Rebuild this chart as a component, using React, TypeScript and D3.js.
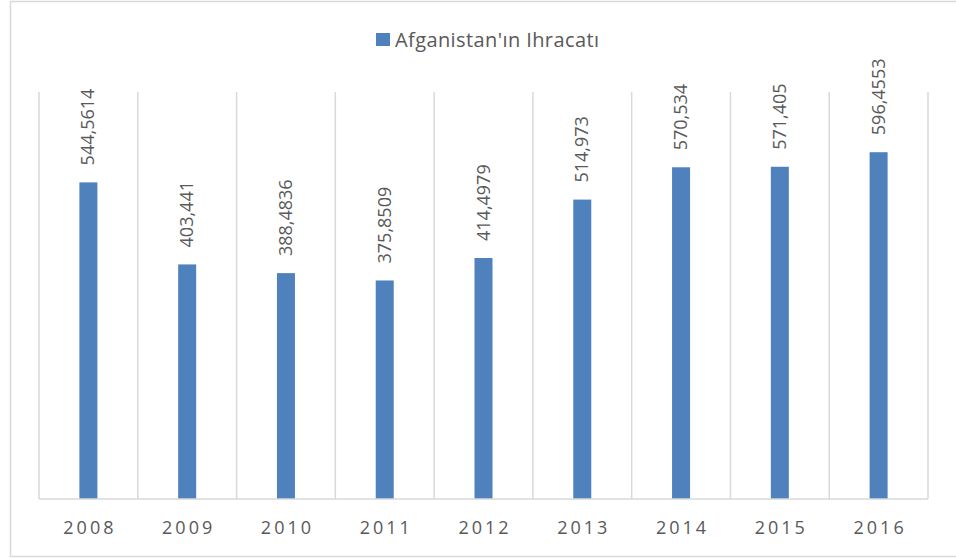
import React from 'react'
import * as d3 from 'd3'

// Afganistan'ın ihracatı, yıllara göre
const years = ['2008', '2009', '2010', '2011', '2012', '2013', '2014', '2015', '2016']
const exportValues = [544.5614, 403.441, 388.4836, 375.8509, 414.4979, 514.973, 570.534, 571.405, 596.4553]
const valueLabels = ['544,5614', '403,441', '388,4836', '375,8509', '414,4979', '514,973', '570,534', '571,405', '596,4553']
const seriesName = "Afganistan'ın Ihracatı"
const yDomainMax = 700

const width = 956
const height = 558
const plot = { left: 39, right: 928, top: 92, bottom: 499 }
const barColor = '#4f81bd'
const gridColor = '#d9d9d9'
const textColor = '#595959'
const font = '"Open Sans", "Liberation Sans", sans-serif'

export default function App() {
  // 18px wide bars in a ~99px category slot
  const pad = 1 - 18 / ((plot.right - plot.left) / years.length)
  const x = d3
    .scaleBand()
    .domain(years)
    .range([plot.left, plot.right])
    .paddingInner(pad)
    .paddingOuter(pad / 2)

  const y = d3.scaleLinear().domain([0, yDomainMax]).range([plot.bottom, plot.top])

  const step = x.step()
  const boundaries = d3.range(years.length + 1).map(i => plot.left + i * step)

  return (
    <div style={{ position: 'absolute', left: 0, top: 0 }}>
      <svg width={width} height={height} style={{ display: 'block', background: '#fff' }}>
        {/* chart frame */}
        <rect x={10.5} y={1.5} width={width} height={555} fill="#fff" stroke={gridColor} strokeWidth={1.5} />

        {/* legend */}
        <rect x={376} y={33} width={14} height={13} fill={barColor} />
        <text x={395} y={46.5} fontFamily={font} fontSize={20} letterSpacing={0.4} fill={textColor}>
          {seriesName}
        </text>

        {/* vertical gridlines between categories */}
        {boundaries.map((bx, i) => (
          <line key={i} x1={bx} x2={bx} y1={plot.top} y2={plot.bottom} stroke={gridColor} strokeWidth={1.5} />
        ))}

        {/* bars */}
        {exportValues.map((v, i) => (
          <rect
            key={years[i]}
            x={x(years[i])}
            y={y(v)}
            width={x.bandwidth()}
            height={y(0) - y(v)}
            fill={barColor}
          />
        ))}

        {/* value labels, rotated */}
        {exportValues.map((v, i) => {
          const cx = (x(years[i]) as number) + x.bandwidth() / 2
          const cy = y(v) - 17
          return (
            <text
              key={years[i]}
              transform={`translate(${cx + 6},${cy}) rotate(-90)`}
              fontFamily={font}
              fontSize={18}
              fill={textColor}
            >
              {valueLabels[i]}
            </text>
          )
        })}

        {/* category axis */}
        <line x1={plot.left} x2={plot.right} y1={plot.bottom} y2={plot.bottom} stroke={gridColor} strokeWidth={1.5} />
        {years.map(yr => (
          <text
            key={yr}
            x={(x(yr) as number) + x.bandwidth() / 2 + 1.5}
            y={534}
            textAnchor="middle"
            fontFamily={font}
            fontSize={18}
            letterSpacing={3}
            fill={textColor}
          >
            {yr}
          </text>
        ))}
      </svg>
    </div>
  )
}
